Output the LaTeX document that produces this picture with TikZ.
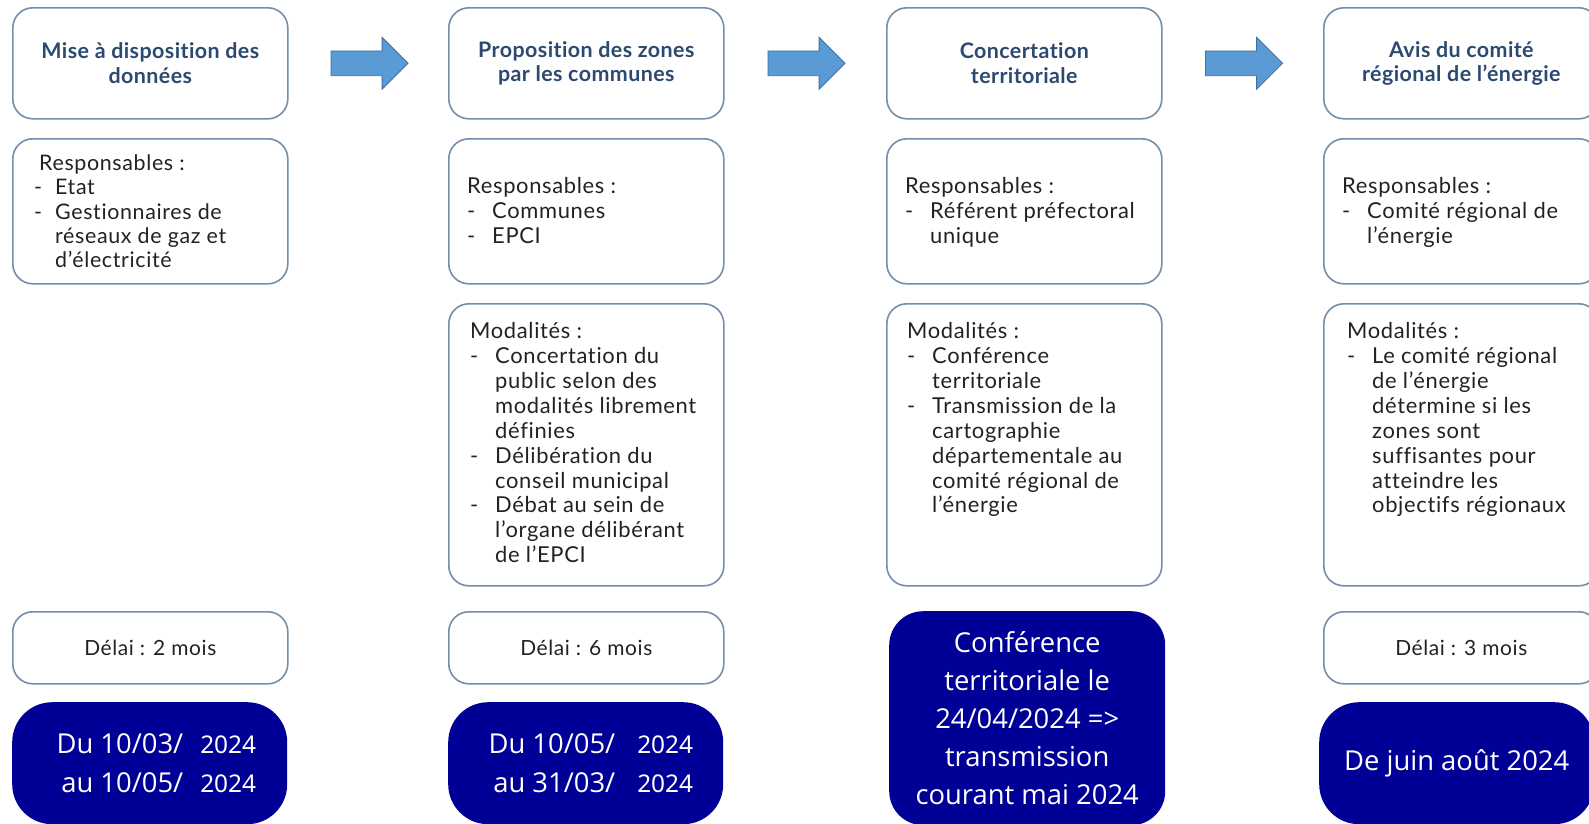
\documentclass[tikz,border=0pt]{standalone}
\usepackage{fontspec}
\setmainfont{Lato}[Ligatures=NoCommon, LetterSpace=3, BoldFeatures={LetterSpace=2}]
\newfontfamily\darkfont{Open Sans}
\newfontfamily\patchfont{Noto Sans}
\usetikzlibrary{shapes.arrows,calc}
\definecolor{bord}{RGB}{118,142,172}
\definecolor{ttl}{RGB}{44,74,112}
\definecolor{bodytx}{RGB}{34,34,34}
\definecolor{navy}{RGB}{0,0,150}
\definecolor{arrfill}{RGB}{91,155,213}
\definecolor{arrdraw}{RGB}{65,113,156}
\newlength\itind
\newlength\dshoff
\newcommand\dshitem{\makebox[\itind][l]{\hspace*{\dshoff}-}}
\newcommand\contitem{\hspace*{\itind}}
\newcommand\yeartxt{{\patchfont\fontsize{24.5}{36}\selectfont 2024}}
\begin{document}
\begin{tikzpicture}[x=1bp,y=-1bp,
  lbox/.style={draw=bord, line width=1.6bp, rounded corners=20bp, fill=white,
    anchor=north west, inner sep=0pt, minimum width=275bp},
  ttlbox/.style={lbox, minimum height=111bp, text=ttl, align=center,
    font=\fontsize{21.5}{24.5}\selectfont\bfseries},
  delaibox/.style={lbox, minimum height=72bp, text=bodytx,
    font=\fontsize{21}{24.5}\selectfont},
  dbox/.style={fill=navy, rounded corners=38bp, anchor=north west, inner sep=0pt,
    minimum width=275bp, text=white, align=center,
    font=\darkfont\fontsize{27.5}{38.3}\selectfont},
  bodytext/.style={anchor=north west, inner sep=0pt, align=left, text=bodytx,
    font=\fontsize{22}{25}\selectfont\setlength\itind{25bp}\setlength\dshoff{0bp}},
  blockarrow/.style={single arrow, fill=arrfill, draw=arrdraw, line width=0.8bp,
    minimum height=77bp, inner xsep=0pt, inner ysep=12bp,
    single arrow head extend=13.5bp, xshift=-5bp}
]
\useasboundingbox (0,0) rectangle (1589,823);
\clip (0,0) rectangle (1589,823);
\fill[white] (0,0) rectangle (1589,823);

% ---- titles
\node[ttlbox] (t1) at (12,7) {Mise à disposition des\\données};
\node[ttlbox] (t2) at (448,7) {Proposition des zones\\par les communes};
\node[ttlbox] (t3) at (886,7) {Concertation\\territoriale};
\node[ttlbox] (t4) at (1323,7) {Avis du comité\\régional de l’énergie};

% ---- arrows
\node[blockarrow] (a1) at ($(t1.east)!0.5!(t2.west)$) {};
\node[blockarrow] (a2) at ($(t2.east)!0.5!(t3.west)$) {};
\node[blockarrow] (a3) at ($(t3.east)!0.5!(t4.west)$) {};

% ---- responsables boxes
\node[lbox, minimum height=145bp] (r1) at (12,138) {};
\node[lbox, minimum height=145bp] (r2) at (448,138) {};
\node[lbox, minimum height=145bp] (r3) at (886,138) {};
\node[lbox, minimum height=145bp] (r4) at (1323,138) {};

\node[bodytext, font=\fontsize{21.5}{24.5}\selectfont\setlength\itind{16bp}\setlength\dshoff{-5bp}] (rt1) at (39,153)
  {\strut Responsables :\\\dshitem Etat\\\dshitem Gestionnaires de\\\contitem réseaux de gaz et\\\contitem d’électricité};
\node[bodytext] (rt2) at (467,176)
  {\strut Responsables :\\\dshitem Communes\\\dshitem EPCI};
\node[bodytext] (rt3) at (905,176)
  {\strut Responsables :\\\dshitem Référent préfectoral\\\contitem unique};
\node[bodytext] (rt4) at (1342,176)
  {\strut Responsables :\\\dshitem Comité régional de\\\contitem l’énergie};

% ---- modalites boxes
\node[lbox, minimum height=282bp] (m2) at (448,303) {};
\node[lbox, minimum height=282bp] (m3) at (886,303) {};
\node[lbox, minimum height=282bp] (m4) at (1323,303) {};

\node[bodytext] (mt2) at (470,321)
  {\strut Modalités :\\\dshitem Concertation du\\\contitem public selon des\\\contitem modalités librement\\\contitem définies\\\dshitem Délibération du\\\contitem conseil municipal\\\dshitem Débat au sein de\\\contitem l’organe délibérant\\\contitem de l’EPCI};
\node[bodytext] (mt3) at (907,321)
  {\strut Modalités :\\\dshitem Conférence\\\contitem territoriale\\\dshitem Transmission de la\\\contitem cartographie\\\contitem départementale au\\\contitem comité régional de\\\contitem l’énergie};
\node[bodytext] (mt4) at (1347,321)
  {\strut Modalités :\\\dshitem Le comité régional\\\contitem de l’énergie\\\contitem détermine si les\\\contitem zones sont\\\contitem suffisantes pour\\\contitem atteindre les\\\contitem objectifs régionaux};

% ---- delai boxes
\node[delaibox] (d1) at (12,611) {Délai : 2 mois};
\node[delaibox] (d2) at (448,611) {Délai : 6 mois};
\node[delaibox] (d4) at (1323,611) {Délai : 3 mois};

% ---- dark date boxes
\node[dbox, rounded corners=40bp, minimum height=122bp] (k1) at (12,702)
  {\hspace*{12bp}\makebox[128bp][r]{Du 10/03/}\hspace{17bp}\yeartxt\\
   \hspace*{12bp}\makebox[128bp][r]{au 10/05/}\hspace{17bp}\yeartxt};
\node[dbox, rounded corners=40bp, minimum height=122bp] (k2) at (448,702)
  {\hspace*{15bp}\makebox[122bp][r]{Du 10/05/}\hspace{22bp}\yeartxt\\
   \hspace*{15bp}\makebox[122bp][r]{au 31/03/}\hspace{22bp}\yeartxt};
\node[dbox, rounded corners=34bp, minimum width=276bp, minimum height=214bp] (k3) at (889,611)
  {Conférence\\territoriale le\\24/04/2024 =>\\transmission\\courant mai 2024};
\node[dbox, rounded corners=40bp, minimum height=122bp] (k4) at (1319,702) {De juin août 2024};
\end{tikzpicture}
\end{document}
